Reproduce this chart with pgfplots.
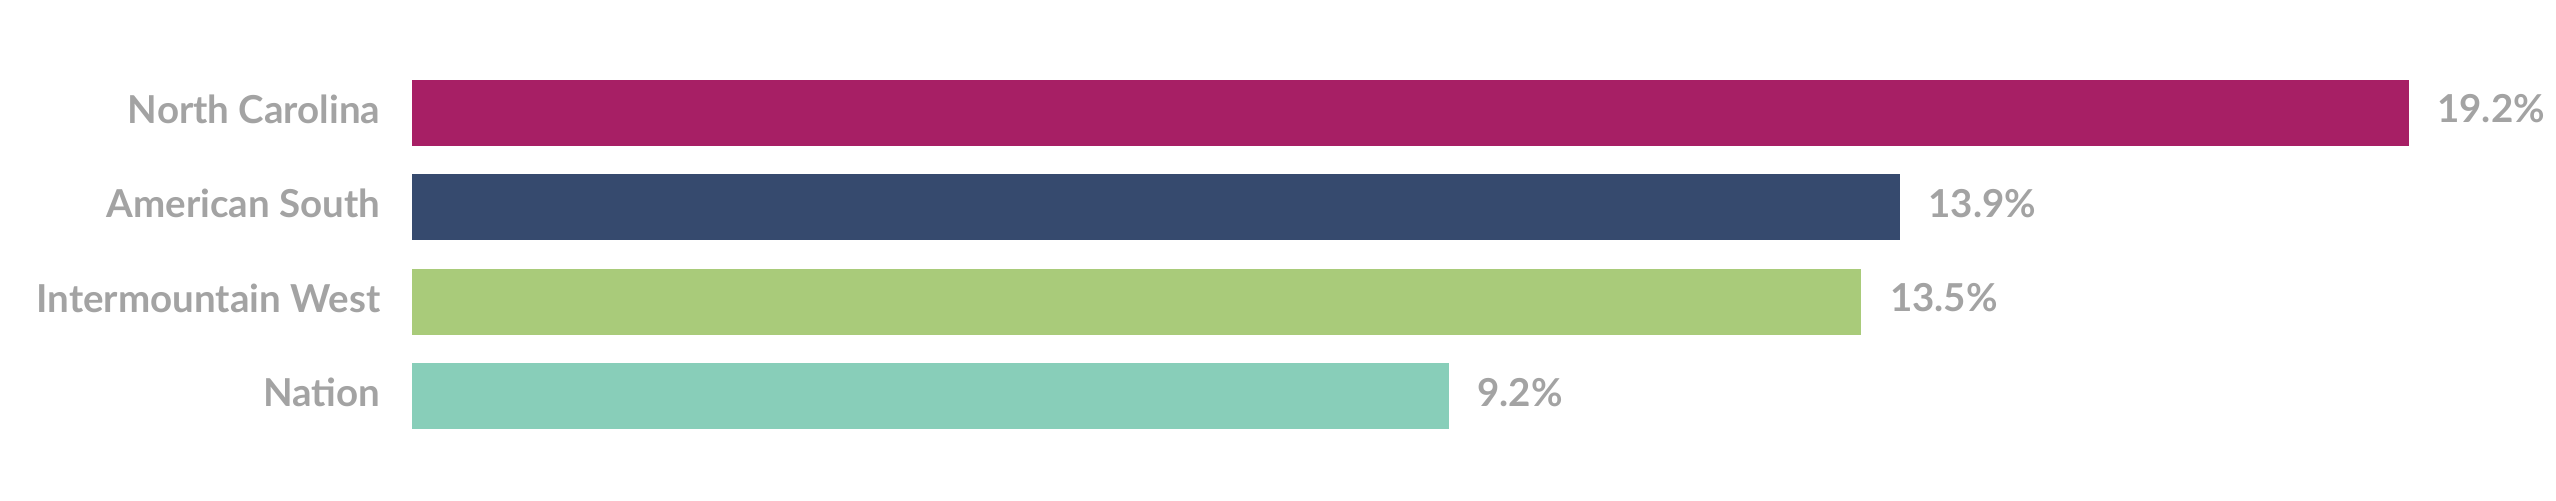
\documentclass[border=0pt]{standalone}
\usepackage{fontspec}
\setmainfont{Lato}
\usepackage{pgfplots}
\pgfplotsset{compat=1.18}

\definecolor{ncred}{HTML}{A71F65}
\definecolor{southblue}{HTML}{364A6E}
\definecolor{westgreen}{HTML}{A9CB7A}
\definecolor{nationteal}{HTML}{88CEB9}
\definecolor{labelgray}{HTML}{A3A3A3}

\begin{document}
\begin{tikzpicture}
\begin{axis}[
    xbar, bar shift=0pt, bar width=19.8pt,
    scale only axis, width=643.2pt, height=150.3pt,
    xmin=0, xmax=22.333,
    ymin=-1.196, ymax=4.106, y dir=reverse,
    axis line style={draw=none},
    major tick length=0pt,
    xtick=\empty,
    ytick={0,1,2,3},
    yticklabels={North Carolina,American South,Intermountain West,Nation},
    yticklabel style={font=\fontsize{11.55}{14}\bfseries, text=labelgray, inner sep=0pt, xshift=-9.3pt, yshift=1.2pt},
    clip=false,
    /pgf/number format/assume math mode=true,
    nodes near coords={\pgfmathprintnumber[fixed,precision=1,fixed zerofill]{\pgfplotspointmeta}\%},
    every node near coord/.append style={font=\fontsize{11.55}{14}\bfseries, text=labelgray, anchor=west, inner sep=0pt, xshift=8.4pt, yshift=1.2pt},
    point meta=explicit,
]
% bars start 1.6 units left of zero on the original chart
\addplot[fill=ncred, draw=none] table[x expr=\thisrow{v}+1.6, y=y, meta=v] {
y v
0 19.2
};
\addplot[fill=southblue, draw=none] table[x expr=\thisrow{v}+1.6, y=y, meta=v] {
y v
1 13.9
};
\addplot[fill=westgreen, draw=none] table[x expr=\thisrow{v}+1.6, y=y, meta=v] {
y v
2 13.5
};
\addplot[fill=nationteal, draw=none] table[x expr=\thisrow{v}+1.6, y=y, meta=v] {
y v
3 9.2
};
\path (rel axis cs:-0.1922,0) -- (rel axis cs:1,1);
\end{axis}
\end{tikzpicture}
\end{document}
